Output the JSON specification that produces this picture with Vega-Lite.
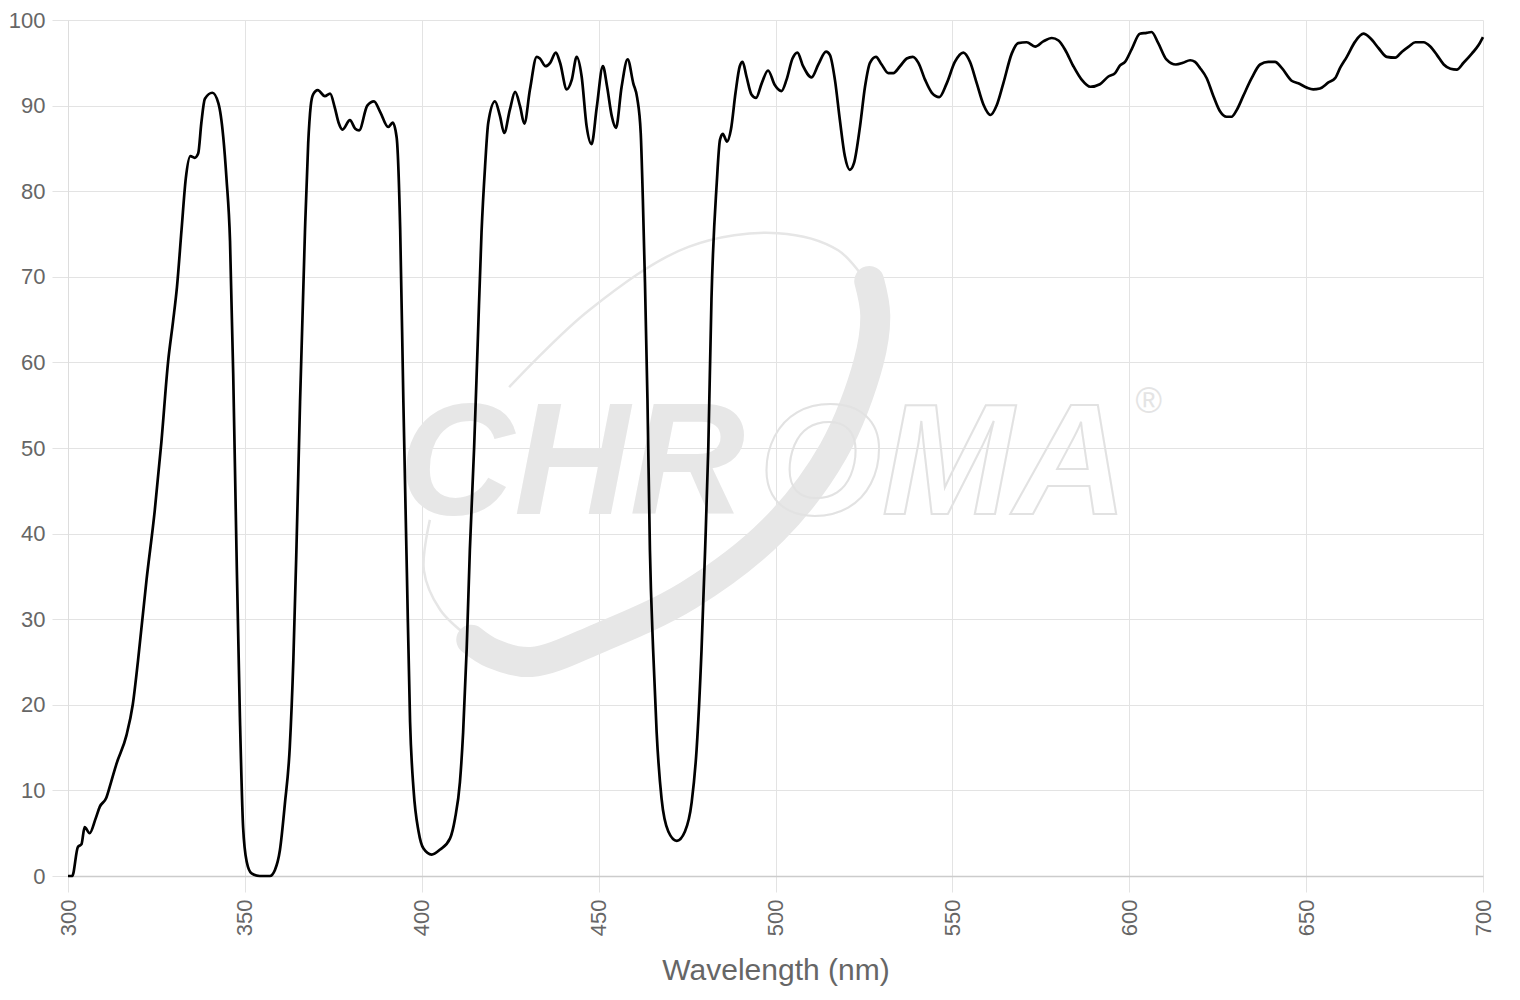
{
  "$schema": "https://vega.github.io/schema/vega-lite/v6.json",
  "width": 1415,
  "height": 856,
  "autosize": {"type": "none"},
  "padding": {"left": 68, "top": 20, "right": 37, "bottom": 124},
  "background": "white",
  "config": {
    "font": "Liberation Sans",
    "view": {"stroke": null},
    "axis": {
      "labelColor": "#666666",
      "titleColor": "#666666",
      "labelFont": "Liberation Sans",
      "titleFont": "Liberation Sans",
      "gridColor": "#e3e3e3",
      "tickColor": "#e3e3e3",
      "gridWidth": 1,
      "tickWidth": 1
    }
  },
  "datasets": {
    "curve": [
      {"nm":300,"t":0},{"nm":301.2,"t":0},{"nm":302.8,"t":3.4},{"nm":303.8,"t":3.7},{"nm":304.7,"t":5.7},{"nm":306.1,"t":5.0},{"nm":307.8,"t":6.7},{"nm":309,"t":8.1},{"nm":310.8,"t":9.1},{"nm":312.2,"t":11},{"nm":313.7,"t":13.1},{"nm":316.5,"t":16.4},{"nm":318.3,"t":20},{"nm":319.8,"t":25.2},{"nm":322.2,"t":34.6},{"nm":324.5,"t":42.6},{"nm":326.4,"t":50.7},{"nm":328.3,"t":60.1},{"nm":329.7,"t":64.8},{"nm":330.8,"t":68.8},{"nm":332.1,"t":75.5},{"nm":333.3,"t":81.5},{"nm":334.6,"t":84.1},{"nm":335.8,"t":83.9},{"nm":336.8,"t":84.4},{"nm":337.7,"t":88},{"nm":338.7,"t":90.8},{"nm":340.8,"t":91.5},{"nm":342.5,"t":90.3},{"nm":343.9,"t":86.3},{"nm":344.8,"t":81.5},{"nm":345.8,"t":74.2},{"nm":346.7,"t":58.7},{"nm":347.6,"t":38.6},{"nm":348.6,"t":18.5},{"nm":349.5,"t":5.7},{"nm":350.5,"t":1.7},{"nm":351.9,"t":0.3},{"nm":354.2,"t":0},{"nm":357.1,"t":0},{"nm":358.5,"t":0.7},{"nm":359.9,"t":3.0},{"nm":361.3,"t":8.4},{"nm":362.7,"t":15.1},{"nm":363.7,"t":25.2},{"nm":364.6,"t":38.6},{"nm":365.6,"t":55.4},{"nm":367,"t":75.5},{"nm":367.9,"t":85.6},{"nm":368.6,"t":89.9},{"nm":369.3,"t":91.3},{"nm":370.6,"t":91.8},{"nm":372.6,"t":91.1},{"nm":374.1,"t":91.4},{"nm":375.4,"t":89.8},{"nm":376.5,"t":88},{"nm":377.6,"t":87.2},{"nm":379.7,"t":88.3},{"nm":381.2,"t":87.3},{"nm":382.3,"t":87.1},{"nm":384.6,"t":90},{"nm":386.5,"t":90.5},{"nm":388.2,"t":89.3},{"nm":390.5,"t":87.5},{"nm":391.8,"t":88},{"nm":392.9,"t":86.3},{"nm":393.9,"t":75.6},{"nm":394.8,"t":55.5},{"nm":395.8,"t":35.4},{"nm":396.7,"t":18},{"nm":397.7,"t":10},{"nm":399.1,"t":5.2},{"nm":400.5,"t":3.2},{"nm":402.8,"t":2.5},{"nm":405.2,"t":3.1},{"nm":408,"t":4.4},{"nm":409.4,"t":6.7},{"nm":410.8,"t":11},{"nm":411.7,"t":16.8},{"nm":412.7,"t":26.5},{"nm":413.6,"t":38.1},{"nm":414.8,"t":50},{"nm":415.8,"t":62},{"nm":416.9,"t":75.2},{"nm":417.9,"t":82.9},{"nm":418.8,"t":88},{"nm":420.7,"t":90.5},{"nm":422.1,"t":88.8},{"nm":423.3,"t":86.8},{"nm":424.9,"t":89.5},{"nm":426.4,"t":91.6},{"nm":427.8,"t":89.9},{"nm":429,"t":87.9},{"nm":430.6,"t":91.9},{"nm":432.5,"t":95.7},{"nm":433.4,"t":95.5},{"nm":435,"t":94.6},{"nm":436.3,"t":95},{"nm":437.9,"t":96.2},{"nm":439.1,"t":95},{"nm":441,"t":91.9},{"nm":442.4,"t":93},{"nm":443.8,"t":95.7},{"nm":445.2,"t":93.4},{"nm":446.6,"t":87.6},{"nm":448,"t":85.5},{"nm":449.5,"t":89.9},{"nm":451.2,"t":94.6},{"nm":452.4,"t":92.2},{"nm":453.7,"t":88.8},{"nm":454.9,"t":87.4},{"nm":456.5,"t":92.2},{"nm":458.2,"t":95.4},{"nm":459.8,"t":92.6},{"nm":460.9,"t":90.9},{"nm":461.9,"t":86.8},{"nm":462.5,"t":79.1},{"nm":463.1,"t":69.4},{"nm":463.8,"t":55.8},{"nm":464.5,"t":38.1},{"nm":465.4,"t":26.5},{"nm":466.4,"t":16.8},{"nm":467.8,"t":9.0},{"nm":469.7,"t":5.2},{"nm":472.1,"t":4.1},{"nm":474.4,"t":5.2},{"nm":476.3,"t":8.6},{"nm":477.7,"t":14.8},{"nm":479.1,"t":26.5},{"nm":480.1,"t":38.1},{"nm":481,"t":50},{"nm":481.9,"t":67.4},{"nm":483.4,"t":81},{"nm":484.3,"t":86},{"nm":485.1,"t":86.7},{"nm":486.3,"t":85.8},{"nm":487.4,"t":87.2},{"nm":488.7,"t":91.5},{"nm":489.9,"t":94.6},{"nm":490.7,"t":95.1},{"nm":491.8,"t":93.4},{"nm":493.2,"t":91.3},{"nm":494.5,"t":90.9},{"nm":496.1,"t":92.6},{"nm":497.9,"t":94.1},{"nm":499.8,"t":92.4},{"nm":501.7,"t":91.7},{"nm":503.1,"t":93},{"nm":504.8,"t":95.5},{"nm":506.2,"t":96.2},{"nm":507.8,"t":94.6},{"nm":510.2,"t":93.3},{"nm":512.1,"t":94.8},{"nm":514.3,"t":96.3},{"nm":515.4,"t":95.9},{"nm":516.8,"t":93},{"nm":518.2,"t":88.3},{"nm":519.6,"t":84.1},{"nm":521,"t":82.5},{"nm":522.2,"t":83.3},{"nm":523.9,"t":87.6},{"nm":525.3,"t":92.2},{"nm":526.7,"t":95},{"nm":528.4,"t":95.7},{"nm":530,"t":94.8},{"nm":531.9,"t":93.8},{"nm":533.3,"t":93.8},{"nm":535.2,"t":94.6},{"nm":537.1,"t":95.5},{"nm":538.8,"t":95.7},{"nm":540.4,"t":95},{"nm":542.3,"t":93},{"nm":544.2,"t":91.5},{"nm":546.3,"t":91},{"nm":548.4,"t":92.6},{"nm":550.7,"t":95.1},{"nm":553.1,"t":96.2},{"nm":555,"t":95.1},{"nm":556.9,"t":92.6},{"nm":558.8,"t":90.1},{"nm":560.8,"t":88.9},{"nm":562.5,"t":90},{"nm":564.4,"t":92.6},{"nm":566.8,"t":96.1},{"nm":568.6,"t":97.3},{"nm":571,"t":97.4},{"nm":573.4,"t":96.9},{"nm":575.7,"t":97.5},{"nm":578.1,"t":97.9},{"nm":580,"t":97.6},{"nm":581.9,"t":96.5},{"nm":584.2,"t":94.6},{"nm":586.6,"t":93},{"nm":589,"t":92.2},{"nm":591.7,"t":92.5},{"nm":594.1,"t":93.4},{"nm":596,"t":93.8},{"nm":597.4,"t":94.7},{"nm":598.8,"t":95.1},{"nm":600.7,"t":96.6},{"nm":603,"t":98.4},{"nm":604.9,"t":98.5},{"nm":606.3,"t":98.6},{"nm":608.2,"t":97.3},{"nm":610.5,"t":95.4},{"nm":613.2,"t":94.8},{"nm":615.2,"t":95},{"nm":617.2,"t":95.3},{"nm":618.6,"t":95.1},{"nm":620,"t":94.4},{"nm":621.9,"t":93.2},{"nm":623.8,"t":91.1},{"nm":625.7,"t":89.3},{"nm":627.5,"t":88.7},{"nm":628.9,"t":88.7},{"nm":630.4,"t":89.5},{"nm":632.2,"t":91.1},{"nm":634.6,"t":93.2},{"nm":637,"t":94.8},{"nm":639.3,"t":95.1},{"nm":641.2,"t":95.1},{"nm":643.1,"t":94.4},{"nm":645.9,"t":92.9},{"nm":647.8,"t":92.6},{"nm":650.2,"t":92.1},{"nm":652,"t":91.9},{"nm":653.9,"t":92},{"nm":656.3,"t":92.7},{"nm":658.2,"t":93.2},{"nm":659.6,"t":94.4},{"nm":661.5,"t":95.7},{"nm":663.9,"t":97.5},{"nm":666.2,"t":98.4},{"nm":668.1,"t":97.9},{"nm":670.5,"t":96.7},{"nm":672.8,"t":95.7},{"nm":675.2,"t":95.6},{"nm":677.1,"t":96.3},{"nm":679,"t":96.9},{"nm":680.9,"t":97.4},{"nm":683.2,"t":97.4},{"nm":685.1,"t":96.9},{"nm":687,"t":95.9},{"nm":688.9,"t":94.8},{"nm":690.8,"t":94.3},{"nm":692.6,"t":94.2},{"nm":694.5,"t":95},{"nm":696.9,"t":96.1},{"nm":698.8,"t":97.1},{"nm":700,"t":98}
    ],
    "swooshThick": [
      {"i":1,"nm":414.0,"t":27.6},{"i":2,"nm":420.0,"t":26.0},{"i":3,"nm":431.0,"t":25.0},{"i":4,"nm":450.1,"t":27.8},{"i":5,"nm":475.4,"t":32.8},{"i":6,"nm":499.3,"t":40.4},{"i":7,"nm":516.3,"t":49.6},{"i":8,"nm":526.3,"t":60.0},{"i":9,"nm":528.2,"t":65.5},{"i":10,"nm":526.5,"t":69.5}
    ],
    "swooshThin": [
      {"i":1,"nm":402.3,"t":41.6},{"i":2,"nm":400.6,"t":35.7},{"i":3,"nm":405.2,"t":31.1},{"i":4,"nm":413.0,"t":28.0},
      {"i":10,"nm":424.7,"t":57.1},{"i":11,"nm":447.3,"t":66.1},{"i":12,"nm":475.4,"t":73.5},{"i":13,"nm":500.7,"t":75.1},{"i":14,"nm":517.7,"t":73.1},{"i":15,"nm":525.5,"t":69.5}
    ],
    "marks": [{"label": "CHR"}]
  },
  "layer": [
    {
      "data": {"name": "swooshThin"},
      "transform": [{"filter": "datum.i < 5"}],
      "mark": {"type": "line", "color": "#e6e6e6", "strokeWidth": 2.5, "interpolate": "catmull-rom"},
      "encoding": {
        "x": {"field": "nm", "type": "quantitative"},
        "y": {"field": "t", "type": "quantitative"},
        "order": {"field": "i"}
      }
    },
    {
      "data": {"name": "swooshThin"},
      "transform": [{"filter": "datum.i > 5"}],
      "mark": {"type": "line", "color": "#e6e6e6", "strokeWidth": 2.5, "interpolate": "catmull-rom"},
      "encoding": {
        "x": {"field": "nm", "type": "quantitative"},
        "y": {"field": "t", "type": "quantitative"},
        "order": {"field": "i"}
      }
    },
    {
      "data": {"name": "swooshThick"},
      "mark": {"type": "line", "color": "#e7e7e7", "strokeWidth": 30, "strokeCap": "round", "interpolate": "catmull-rom"},
      "encoding": {
        "x": {"field": "nm", "type": "quantitative"},
        "y": {"field": "t", "type": "quantitative"},
        "order": {"field": "i"}
      }
    },
    {
      "data": {"name": "marks"},
      "mark": {"type": "text", "text": "CHR", "font": "Liberation Sans", "fontSize": 160, "fontWeight": "bold", "fontStyle": "italic", "fill": "#e7e7e7", "align": "right", "baseline": "alphabetic"},
      "encoding": {
        "x": {"datum": 491.4, "type": "quantitative"},
        "y": {"datum": 42.3, "type": "quantitative"}
      }
    },
    {
      "data": {"name": "marks"},
      "mark": {"type": "text", "text": "OMA", "font": "Liberation Sans", "fontSize": 158, "fontWeight": "bold", "fontStyle": "italic", "fill": "white", "fillOpacity": 0, "stroke": "#e2e2e2", "strokeWidth": 2, "align": "left", "baseline": "alphabetic"},
      "encoding": {
        "x": {"datum": 495.3, "type": "quantitative"},
        "y": {"datum": 42.3, "type": "quantitative"}
      }
    },
    {
      "data": {"name": "marks"},
      "mark": {"type": "text", "text": "®", "font": "Liberation Sans", "fontSize": 36, "fill": "#e4e4e4", "align": "center", "baseline": "middle"},
      "encoding": {
        "x": {"datum": 605.5, "type": "quantitative"},
        "y": {"datum": 55.4, "type": "quantitative"}
      }
    },
    {
      "data": {"name": "curve"},
      "mark": {"type": "line", "color": "black", "strokeWidth": 2.7, "interpolate": "monotone"},
      "encoding": {
        "x": {
          "field": "nm", "type": "quantitative",
          "scale": {"domain": [300, 700], "nice": false, "zero": false},
          "axis": {
            "title": "Wavelength (nm)",
            "titleFontSize": 30,
            "titleFontWeight": "normal",
            "titlePadding": 20,
            "values": [300, 350, 400, 450, 500, 550, 600, 650, 700],
            "labelAngle": -90,
            "labelFontSize": 22,
            "labelPadding": 7,
            "tickSize": 16,
            "grid": true,
            "domainColor": "#cccccc",
            "domainWidth": 1.5
          }
        },
        "y": {
          "field": "t", "type": "quantitative",
          "scale": {"domain": [0, 100], "nice": false},
          "axis": {
            "title": null,
            "values": [0, 10, 20, 30, 40, 50, 60, 70, 80, 90, 100],
            "labelFontSize": 22,
            "labelPadding": 7,
            "tickSize": 16,
            "grid": true,
            "domainColor": "#dddddd"
          }
        }
      }
    }
  ]
}
